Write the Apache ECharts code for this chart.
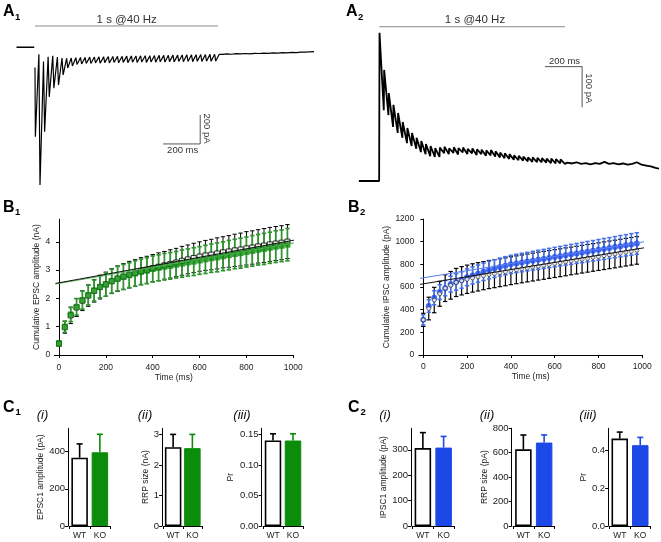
<!DOCTYPE html>
<html><head><meta charset="utf-8">
<script src="https://cdn.jsdelivr.net/npm/echarts@6/dist/echarts.min.js"></script>
<style>html,body{margin:0;padding:0;background:#fff}#c{width:661px;height:542px}</style>
</head><body><div id="c"></div>
<script>
// ================= DATA =================
// A1: EPSC train (pA vs ms), 40 stimuli at 25 ms
const a1Baseline = [[-100, 0], [-4, 0]];
const a1Start = -140;
const a1Peaks = [-617, -950, -582, -342, -282, -260, -191, -143, -129, -119, -115, -112, -112, -108, -110, -106, -108, -105, -107, -104, -106, -103, -105, -102, -104, -101, -103, -100, -102, -99, -101, -98, -100, -98, -99, -97, -98, -96, -97, -95];
const a1Recover = [-48, -99, -65, -58, -67, -74, -77, -74, -72, -70, -70, -68, -67, -66, -65, -64, -63, -63, -62, -61, -60, -60, -59, -58, -58, -57, -56, -56, -55, -54, -54, -53, -52, -52, -51, -50, -50, -49, -48, -48];
const a1Tail = [-49, -46, -48, -44, -46, -43, -45, -42, -43, -40, -42, -39, -40, -37, -38, -35, -37, -33, -34, -31, -30];
const a1Stim = [[0, 147], [990, 147]];
const a1Scale = [[693, -667], [893, -667], [893, -467]];

// A2: IPSC train (pA vs ms)
const a2Baseline = [[-110, 0], [-1, 0]];
const a2Peaks = [364, 273, 216, 187, 167, 145, 130, 118, 106, 98, 91, 86, 81, 82, 84, 80, 83, 81, 82, 79, 80, 78, 77, 75, 76, 73, 70, 68, 66, 63, 62, 60, 58, 58, 57, 56, 55, 55, 54, 53];
const a2Troughs = [174, 162, 133, 118, 106, 93, 86, 79, 71, 66, 61, 59, 59, 68, 66, 69, 65, 70, 66, 68, 64, 66, 62, 63, 60, 58, 56, 54, 52, 51, 50, 48, 47, 46, 46, 45, 44, 43, 43, 42];
const a2Tail = [45, 43, 46, 42, 44, 41, 44, 42, 47, 42, 44, 41, 43, 40, 42, 46, 40, 38, 36, 32, 30];
const a2Stim = [[0, 379], [1000, 379]];
const a2Scale = [[892, 281], [1092, 281], [1092, 181]];

// B: cumulative amplitude vs time
const bTime = [0, 25, 50, 75, 100, 125, 150, 175, 200, 225, 250, 275, 300, 325, 350, 375, 400, 425, 450, 475, 500, 525, 550, 575, 600, 625, 650, 675, 700, 725, 750, 775, 800, 825, 850, 875, 900, 925, 950, 975];
const b1KOMean = [0.41, 1.00, 1.43, 1.70, 1.94, 2.12, 2.28, 2.41, 2.49, 2.61, 2.70, 2.76, 2.82, 2.88, 2.94, 2.98, 3.04, 3.08, 3.12, 3.15, 3.19, 3.23, 3.27, 3.30, 3.34, 3.38, 3.42, 3.45, 3.49, 3.53, 3.57, 3.60, 3.64, 3.68, 3.72, 3.75, 3.79, 3.83, 3.86, 3.90];
const b1KOSem = [0.08, 0.20, 0.25, 0.29, 0.32, 0.35, 0.37, 0.39, 0.41, 0.42, 0.43, 0.44, 0.44, 0.45, 0.45, 0.46, 0.46, 0.46, 0.47, 0.47, 0.47, 0.48, 0.48, 0.49, 0.49, 0.50, 0.50, 0.51, 0.51, 0.52, 0.52, 0.53, 0.53, 0.54, 0.54, 0.55, 0.55, 0.56, 0.56, 0.57];
const b1WTMean = [0.40, 0.98, 1.40, 1.68, 1.92, 2.10, 2.27, 2.40, 2.50, 2.61, 2.70, 2.77, 2.84, 2.90, 2.96, 3.01, 3.07, 3.12, 3.17, 3.22, 3.27, 3.33, 3.38, 3.43, 3.48, 3.52, 3.55, 3.59, 3.63, 3.66, 3.70, 3.73, 3.77, 3.80, 3.84, 3.87, 3.91, 3.94, 3.97, 4.01];
const b1WTSem = [0.06, 0.21, 0.29, 0.32, 0.35, 0.38, 0.40, 0.42, 0.43, 0.44, 0.45, 0.46, 0.47, 0.47, 0.48, 0.48, 0.48, 0.49, 0.49, 0.50, 0.50, 0.51, 0.51, 0.52, 0.52, 0.53, 0.54, 0.55, 0.55, 0.56, 0.57, 0.58, 0.59, 0.59, 0.59, 0.60, 0.60, 0.60, 0.60, 0.60];
const b1FitWT = [[-15, 2.53], [1010, 4.07]];
const b1FitKO = [[-15, 2.51], [1010, 3.97]];

const b2KOMean = [310, 432, 505, 555, 590, 625, 645, 662, 685, 702, 718, 734, 750, 763, 776, 788, 800, 808, 816, 824, 832, 840, 848, 856, 864, 872, 880, 888, 896, 904, 912, 920, 928, 936, 944, 952, 960, 968, 976, 984];
const b2KOSem = [45, 55, 62, 65, 68, 70, 72, 73, 74, 75, 76, 77, 78, 78, 79, 80, 80, 81, 82, 82, 83, 84, 84, 85, 86, 86, 87, 88, 88, 89, 90, 90, 91, 92, 92, 93, 94, 94, 95, 95];
const b2WTMean = [310, 410, 485, 540, 590, 615, 640, 655, 668, 680, 690, 700, 710, 718, 726, 734, 744, 752, 760, 768, 776, 784, 791, 799, 807, 814, 822, 830, 837, 845, 853, 861, 868, 876, 884, 891, 899, 907, 915, 923];
const b2WTSem = [58, 100, 112, 110, 118, 122, 124, 125, 125, 125, 125, 124, 124, 124, 123, 123, 123, 123, 123, 123, 123, 123, 123, 123, 123, 123, 123, 122, 122, 122, 122, 122, 122, 122, 122, 122, 122, 122, 122, 122];
const b2FitWT = [[-15, 623], [1012, 947]];
const b2FitKO = [[-15, 676], [1012, 1000]];

// C: bar summaries (WT, KO)
const cCats = ['WT', 'KO'];
const c1EPSC1Mean = [367, 396], c1EPSC1Sem = [74, 97];
const c1RRPMean = [2.58, 2.55], c1RRPSem = [0.42, 0.45];
const c1PrMean = [0.140, 0.140], c1PrSem = [0.011, 0.011];
const c2IPSC1Mean = [307, 309], c2IPSC1Sem = [61, 44];
const c2RRPMean = [628, 683], c2RRPSem = [117, 63];
const c2PrMean = [0.461, 0.426], c2PrSem = [0.034, 0.041];

// tick labels
const b1XTicks = [0, 200, 400, 600, 800, 1000];
const b1YTicks = [0, 1, 2, 3, 4];
const b2YTicks = [0, 200, 400, 600, 800, 1000, 1200];
const c1iTicks = [0, 200, 400], c1iiTicks = [0, 1, 2, 3], c1iiiTicks = [0, 0.05, 0.10, 0.15];
const c2iTicks = [0, 100, 200, 300], c2iiTicks = [0, 200, 400, 600, 800], c2iiiTicks = [0, 0.2, 0.4];

// ================= STYLE / BUILD =================
const FONT = 'Liberation Sans, Arial, sans-serif';
const GREEN = '#0b8c0b', GREEN_L = '#2f962f', BLUE = '#1c48e8', BLUE_L = '#4470f0';

const a1Trace = [[0, a1Start]];
for (let k = 0; k < a1Peaks.length; k++) { a1Trace.push([25 * k + 2, a1Peaks[k]]); a1Trace.push([25 * k + 21, a1Recover[k]]); }
a1Tail.forEach((v, i) => a1Trace.push([1000 + 25 * i + 12, v]));

const a2Trace = a2Baseline.slice();
for (let k = 0; k < a2Peaks.length; k++) { a2Trace.push([25 * k + 1, a2Peaks[k]]); a2Trace.push([25 * k + 24, a2Troughs[k]]); }
a2Tail.forEach((v, i) => a2Trace.push([1000 + 25 * i + 12, v]));

function errRender(color, lw, cap, lowerCap) {
  return function (params, api) {
    const x = api.value(0), lo = api.value(1), hi = api.value(2);
    const a = api.coord([x, lo]), b = api.coord([x, hi]);
    const st = { stroke: color, lineWidth: lw };
    const ch = [
      { type: 'line', shape: { x1: a[0], y1: a[1], x2: b[0], y2: b[1] }, style: st },
      { type: 'line', shape: { x1: b[0] - cap, y1: b[1], x2: b[0] + cap, y2: b[1] }, style: st }
    ];
    if (lowerCap) ch.push({ type: 'line', shape: { x1: a[0] - cap, y1: a[1], x2: a[0] + cap, y2: a[1] }, style: st });
    return { type: 'group', children: ch };
  };
}
function errData(xs, m, s) { return xs.map((t, i) => [t, m[i] - s[i], m[i] + s[i]]); }
function upData(m, s) { return m.map((v, i) => [i, v, v + s[i]]); }

const grids = [
  { left: 16.5, top: 18.3, width: 296, height: 173.9 },
  { left: 358.9, top: 18.2, width: 299, height: 175 },
  { left: 54.3, top: 219.2, width: 239, height: 135.8 },
  { left: 418.9, top: 219, width: 223.4, height: 136 },
  { left: 69.5, top: 428.3, width: 40.5, height: 97.7 },
  { left: 163.5, top: 428.3, width: 38.5, height: 97.7 },
  { left: 263, top: 428.3, width: 40, height: 97.7 },
  { left: 412.5, top: 428.3, width: 41.5, height: 97.7 },
  { left: 513, top: 428.3, width: 41.5, height: 97.7 },
  { left: 609.5, top: 428.3, width: 41, height: 97.7 }
];

const axLine = { show: true, lineStyle: { color: '#000', width: 1 } };
const axTick = (vals) => ({ show: true, length: 3, lineStyle: { color: '#000', width: 1 }, customValues: vals });
const axLab = (vals, fs, fmt) => ({ show: true, color: '#222', fontSize: fs, fontFamily: FONT, margin: 3, customValues: vals, formatter: fmt || (v => String(v)) });

const xAxes = [
  { gridIndex: 0, type: 'value', min: -100, max: 1500, show: false },
  { gridIndex: 1, type: 'value', min: -110, max: 1500, show: false },
  { gridIndex: 2, type: 'value', min: -20, max: 1000, offset: 5, axisLine: axLine, axisTick: axTick(b1XTicks), axisLabel: axLab(b1XTicks, 8.5), splitLine: { show: false },
    name: 'Time (ms)', nameLocation: 'middle', nameGap: 12, nameTextStyle: { fontSize: 8.5, fontFamily: FONT, color: '#222' } },
  { gridIndex: 3, type: 'value', min: -20, max: 1000, offset: 4.3, axisLine: axLine, axisTick: axTick(b1XTicks), axisLabel: axLab(b1XTicks, 8.5), splitLine: { show: false },
    name: 'Time (ms)', nameLocation: 'middle', nameGap: 12, nameTextStyle: { fontSize: 8.5, fontFamily: FONT, color: '#222' } }
];
for (let g = 4; g < 10; g++) {
  xAxes.push({ gridIndex: g, type: 'category', data: cCats, offset: 2.3, axisLine: axLine,
    axisTick: { show: true, length: 3, alignWithLabel: false, lineStyle: { color: '#000' } },
    axisLabel: { color: '#222', fontSize: 8.5, fontFamily: FONT, margin: 3 } });
}
const nameStyle = { fontSize: 8.5, fontFamily: FONT, color: '#222' };
const yAxes = [
  { gridIndex: 0, type: 'value', min: -1000, max: 200, show: false },
  { gridIndex: 1, type: 'value', min: -30, max: 400, show: false },
  { gridIndex: 2, type: 'value', min: 0, max: 4.8, offset: 1, axisLine: axLine, axisTick: axTick(b1YTicks), axisLabel: axLab(b1YTicks, 8.5), splitLine: { show: false },
    name: 'Cumulative EPSC amplitude (nA)', nameLocation: 'middle', nameGap: 12, nameTextStyle: nameStyle },
  { gridIndex: 3, type: 'value', min: 0, max: 1200, offset: 1.6, axisLine: axLine, axisTick: axTick(b2YTicks), axisLabel: axLab(b2YTicks, 8.5), splitLine: { show: false },
    name: 'Cumulative IPSC amplitude (pA)', nameLocation: 'middle', nameGap: 24, nameTextStyle: nameStyle }
];
const cY = [
  { max: 525, ticks: c1iTicks, fmt: null, name: 'EPSC1 amplitude (pA)', gap: 20 },
  { max: 3.2, ticks: c1iiTicks, fmt: null, name: 'RRP size (nA)', gap: 11 },
  { max: 0.16, ticks: c1iiiTicks, fmt: v => v.toFixed(2), name: 'Pr', gap: 26 },
  { max: 385, ticks: c2iTicks, fmt: null, name: 'IPSC1 amplitude (pA)', gap: 20 },
  { max: 800, ticks: c2iiTicks, fmt: null, name: 'RRP size (pA)', gap: 20 },
  { max: 0.515, ticks: c2iiiTicks, fmt: v => v.toFixed(1), name: 'Pr', gap: 18 }
];
cY.forEach((c, i) => {
  yAxes.push({ gridIndex: 4 + i, type: 'value', min: 0, max: c.max, offset: 1.4, axisLine: axLine,
    axisTick: axTick(c.ticks), axisLabel: axLab(c.ticks, 9.5, c.fmt), splitLine: { show: false },
    name: c.name, nameLocation: 'middle', nameGap: c.gap, nameTextStyle: nameStyle });
});

const series = [
  // A1
  { type: 'line', xAxisIndex: 0, yAxisIndex: 0, data: a1Stim, symbol: 'none', lineStyle: { color: '#8a8a8a', width: 1 } },
  { type: 'line', xAxisIndex: 0, yAxisIndex: 0, data: a1Scale, symbol: 'none', lineStyle: { color: '#555', width: 1 } },
  { type: 'line', xAxisIndex: 0, yAxisIndex: 0, data: a1Baseline, symbol: 'none', lineStyle: { color: '#000', width: 1.6 } },
  { type: 'line', xAxisIndex: 0, yAxisIndex: 0, data: a1Trace, symbol: 'none', lineStyle: { color: '#000', width: 1.2 } },
  // A2
  { type: 'line', xAxisIndex: 1, yAxisIndex: 1, data: a2Stim, symbol: 'none', lineStyle: { color: '#8a8a8a', width: 1 } },
  { type: 'line', xAxisIndex: 1, yAxisIndex: 1, data: a2Scale, symbol: 'none', lineStyle: { color: '#555', width: 1 } },
  { type: 'line', xAxisIndex: 1, yAxisIndex: 1, data: a2Trace, symbol: 'none', lineStyle: { color: '#000', width: 1.8 } },
  // B1
  { type: 'custom', xAxisIndex: 2, yAxisIndex: 2, data: errData(bTime, b1WTMean, b1WTSem), renderItem: errRender('#000', 1, 2.2, true), encode: { x: 0, y: [1, 2] } },
  { type: 'scatter', xAxisIndex: 2, yAxisIndex: 2, data: bTime.map((t, i) => [t, b1WTMean[i]]), symbol: 'rect', symbolSize: 5, itemStyle: { color: '#fff', borderColor: '#000', borderWidth: 1 } },
  { type: 'custom', xAxisIndex: 2, yAxisIndex: 2, data: errData(bTime, b1KOMean, b1KOSem), renderItem: errRender(GREEN_L, 1.7, 2.2, true), encode: { x: 0, y: [1, 2] } },
  { type: 'scatter', xAxisIndex: 2, yAxisIndex: 2, data: bTime.map((t, i) => [t, b1KOMean[i]]), symbol: 'rect', symbolSize: 6, itemStyle: { color: GREEN } },
  { type: 'line', xAxisIndex: 2, yAxisIndex: 2, data: b1FitKO, symbol: 'none', lineStyle: { color: '#4faf4f', width: 1 }, z: 5 },
  { type: 'line', xAxisIndex: 2, yAxisIndex: 2, data: b1FitWT, symbol: 'none', lineStyle: { color: '#111', width: 1 }, z: 5 },
  // B2
  { type: 'custom', xAxisIndex: 3, yAxisIndex: 3, data: errData(bTime, b2WTMean, b2WTSem), renderItem: errRender('#000', 1.2, 2.2, true), encode: { x: 0, y: [1, 2] } },
  { type: 'custom', xAxisIndex: 3, yAxisIndex: 3, data: errData(bTime, b2KOMean, b2KOSem), renderItem: errRender(BLUE_L, 1.5, 2.2, true), encode: { x: 0, y: [1, 2] } },
  { type: 'scatter', xAxisIndex: 3, yAxisIndex: 3, data: bTime.map((t, i) => [t, b2KOMean[i]]), symbol: 'circle', symbolSize: 6, itemStyle: { color: BLUE } },
  { type: 'scatter', xAxisIndex: 3, yAxisIndex: 3, data: bTime.map((t, i) => [t, b2WTMean[i]]), symbol: 'circle', symbolSize: 4, itemStyle: { color: '#fff', borderColor: '#222', borderWidth: 0.8 } },
  { type: 'line', xAxisIndex: 3, yAxisIndex: 3, data: b2FitKO, symbol: 'none', lineStyle: { color: '#5a80f0', width: 1 }, z: 5 },
  { type: 'line', xAxisIndex: 3, yAxisIndex: 3, data: b2FitWT, symbol: 'none', lineStyle: { color: '#111', width: 1 }, z: 5 }
];

const cData = [
  [c1EPSC1Mean, c1EPSC1Sem, GREEN], [c1RRPMean, c1RRPSem, GREEN], [c1PrMean, c1PrSem, GREEN],
  [c2IPSC1Mean, c2IPSC1Sem, BLUE], [c2RRPMean, c2RRPSem, BLUE], [c2PrMean, c2PrSem, BLUE]
];
cData.forEach((d, i) => {
  const g = 4 + i, col = d[2];
  series.push({ type: 'bar', xAxisIndex: g, yAxisIndex: g, barWidth: 16.5,
    data: [{ value: d[0][0], itemStyle: { color: '#fff', borderColor: '#000', borderWidth: 1.6 } },
           { value: d[0][1], itemStyle: { color: col, borderColor: col, borderWidth: 1 } }] });
  series.push({ type: 'custom', xAxisIndex: g, yAxisIndex: g, data: [upData(d[0], d[1])[0]], renderItem: errRender('#000', 1.6, 3, false), encode: { x: 0, y: [1, 2] }, z: 1 });
  series.push({ type: 'custom', xAxisIndex: g, yAxisIndex: g, data: [upData(d[0], d[1])[1]], renderItem: errRender(col, 1.6, 3, false), encode: { x: 0, y: [1, 2] }, z: 1 });
});

function txt(x, y, text, opt) {
  opt = opt || {};
  return { type: 'text', x: x, y: y, rotation: opt.rot || 0, silent: true,
    style: { text: text, fill: opt.color || '#222', fontSize: opt.size || 9, fontFamily: FONT,
      fontWeight: opt.weight || 'normal', fontStyle: opt.style || 'normal',
      align: opt.align || 'center', verticalAlign: opt.va || 'middle' } };
}
const L = { size: 16, weight: 'bold', align: 'left', color: '#000' };
const S = { size: 9.5, weight: 'bold', align: 'left', color: '#000' };
const graphic = [
  txt(3, 12, 'A', L), txt(15, 17, '1', S),
  txt(346, 12, 'A', L), txt(358, 17, '2', S),
  txt(3, 207.5, 'B', L), txt(15, 212.5, '1', S),
  txt(348, 207.5, 'B', L), txt(360, 212.5, '2', S),
  txt(3, 407.5, 'C', L), txt(15.5, 412.5, '1', S),
  txt(348, 407.5, 'C', L), txt(360.5, 412.5, '2', S),
  txt(126.7, 20, '1 s @40 Hz', { size: 11.5, color: '#333' }),
  txt(475, 20, '1 s @40 Hz', { size: 11.5, color: '#333' }),
  txt(182.7, 150.7, '200 ms', { size: 9.5, color: '#333' }),
  txt(207, 128.5, '200 pA', { size: 9.5, color: '#333', rot: -Math.PI / 2 }),
  txt(564.5, 61, '200 ms', { size: 9.5, color: '#333' }),
  txt(588.5, 88.3, '100 pA', { size: 9.5, color: '#333', rot: -Math.PI / 2 }),
  txt(42.5, 415, '(i)', { size: 13, style: 'italic', color: '#111' }),
  txt(145, 415, '(ii)', { size: 13, style: 'italic', color: '#111' }),
  txt(242, 415, '(iii)', { size: 13, style: 'italic', color: '#111' }),
  txt(385, 415, '(i)', { size: 13, style: 'italic', color: '#111' }),
  txt(487, 415, '(ii)', { size: 13, style: 'italic', color: '#111' }),
  txt(588, 415, '(iii)', { size: 13, style: 'italic', color: '#111' })
];

const chart = echarts.init(document.getElementById('c'));
chart.setOption({ animation: false, backgroundColor: '#fff', grid: grids, xAxis: xAxes, yAxis: yAxes, series: series, graphic: graphic });
</script></body></html>
